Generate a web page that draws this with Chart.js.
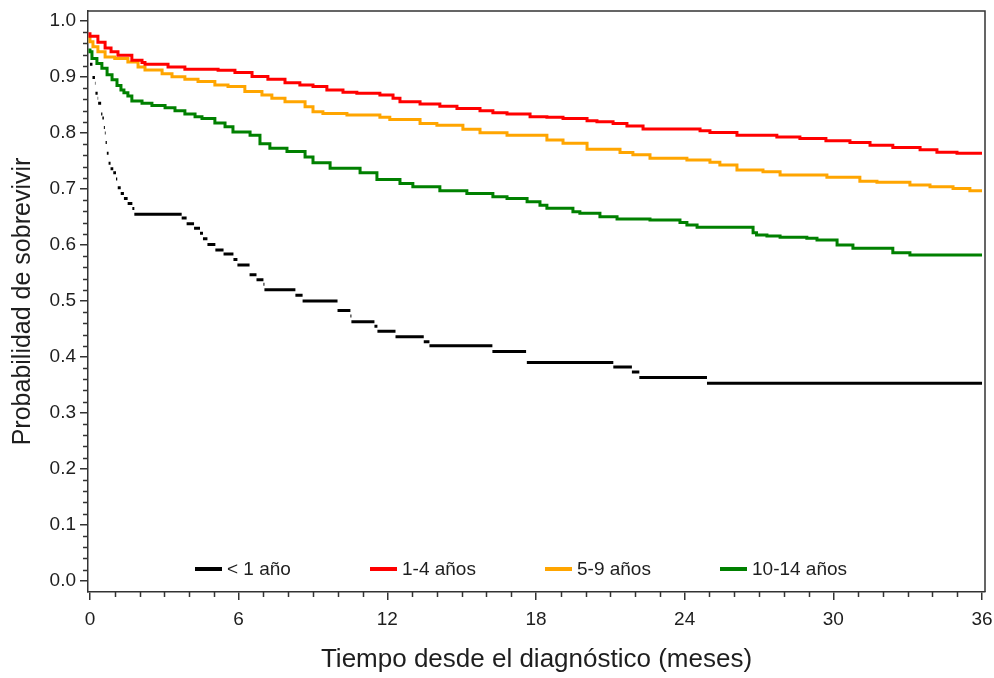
<!DOCTYPE html>
<html>
<head>
<meta charset="utf-8">
<script src="https://cdn.jsdelivr.net/npm/chart.js@4.4.0/dist/chart.umd.min.js"></script>
<style>
  html, body { margin: 0; padding: 0; background: #fff; }
</style>
</head>
<body>
<canvas id="km" width="994" height="678"></canvas>
<script>
// Data
const groupLabels = ['< 1 año', '1-4 años', '5-9 años', '10-14 años'];
const groupColors = ['#000000', '#ff0000', '#ffa500', '#008000'];

const timesLt1 = [0, 0.1, 0.2, 0.22, 0.31, 0.33, 0.45, 0.5, 0.56, 0.6, 0.63, 0.68, 0.75, 0.83, 0.94, 1.05, 1.1, 1.12, 1.24, 1.37,
    1.52, 1.71, 1.79, 3.70, 3.9, 4.2, 4.44, 4.56, 4.74, 5.06, 5.39, 5.79, 5.95, 6.44, 6.72, 7.0, 7.04, 8.29, 8.58, 9.99,
    10.51, 10.55, 11.48, 11.6, 12.33, 13.47, 13.7, 16.24, 17.6, 17.63, 21.12, 21.87, 22.17, 24.9, 36];
const survLt1 = [0.923, 0.899, 0.889, 0.871, 0.862, 0.853, 0.834, 0.827, 0.810, 0.800, 0.783, 0.764, 0.746, 0.736, 0.729, 0.718, 0.710, 0.702, 0.692, 0.683,
    0.674, 0.665, 0.655, 0.648, 0.638, 0.630, 0.621, 0.611, 0.601, 0.591, 0.584, 0.574, 0.564, 0.547, 0.538, 0.530, 0.520, 0.510, 0.500, 0.483,
    0.473, 0.463, 0.455, 0.446, 0.436, 0.427, 0.420, 0.4095, 0.3995, 0.390, 0.382, 0.373, 0.363, 0.353, 0.353];

const times1to4 = [0, 0.32, 0.61, 0.85, 1.13, 1.69, 2.10, 2.22, 3.15, 3.83, 5.17, 5.85, 6.54, 7.18, 7.87, 8.47, 9.0, 9.56, 10.21, 10.77,
    11.70, 12.23, 12.51, 13.32, 14.12, 14.81, 15.74, 16.26, 16.83, 17.76, 18.44, 19.09, 20.06, 20.46, 21.11, 21.67, 22.32, 24.62, 25.02, 26.11,
    27.72, 28.65, 29.7, 30.67, 31.48, 32.4, 33.5, 34.18, 34.99, 35.39, 36];
const surv1to4 = [0.980, 0.973, 0.962, 0.952, 0.945, 0.939, 0.930, 0.926, 0.923, 0.918, 0.914, 0.912, 0.908, 0.901, 0.896, 0.890, 0.886, 0.883, 0.877, 0.873,
    0.871, 0.868, 0.862, 0.856, 0.852, 0.848, 0.844, 0.840, 0.836, 0.834, 0.829, 0.828, 0.826, 0.822, 0.820, 0.817, 0.8125, 0.807, 0.804, 0.801,
    0.796, 0.793, 0.790, 0.786, 0.783, 0.778, 0.774, 0.770, 0.7655, 0.764, 0.764];

const times5to9 = [0, 0.12, 0.32, 0.61, 1.0, 1.53, 1.94, 2.22, 2.91, 3.31, 3.83, 4.36, 5.04, 5.57, 6.25, 6.94, 7.34, 7.87, 8.68, 9.0,
    9.4, 10.37, 11.7, 12.1, 13.32, 14.0, 15.05, 15.74, 16.83, 18.44, 19.09, 20.06, 21.39, 21.91, 22.6, 24.09, 25.02, 25.42, 26.11, 27.16,
    27.85, 29.74, 31.07, 31.76, 33.09, 33.9, 34.83, 35.51, 35.92, 36];
const surv5to9 = [0.974, 0.963, 0.954, 0.945, 0.936, 0.933, 0.927, 0.918, 0.9125, 0.906, 0.9006, 0.896, 0.892, 0.886, 0.883, 0.874, 0.868, 0.862, 0.856, 0.847,
    0.838, 0.835, 0.832, 0.828, 0.824, 0.817, 0.814, 0.8066, 0.8006, 0.796, 0.7875, 0.7816, 0.771, 0.765, 0.761, 0.755, 0.752, 0.748, 0.743, 0.734,
    0.731, 0.725, 0.721, 0.714, 0.712, 0.707, 0.704, 0.701, 0.697, 0.697];

const times10to14 = [0, 0.08, 0.28, 0.48, 0.69, 0.89, 1.09, 1.25, 1.37, 1.53, 1.69, 2.10, 2.50, 3.03, 3.43, 3.83, 4.24, 4.52, 5.04, 5.45,
    5.77, 6.46, 6.86, 7.26, 7.95, 8.68, 9.0, 9.69, 10.9, 11.58, 12.51, 13.03, 14.12, 15.21, 16.26, 16.83, 17.64, 18.16, 18.44, 19.49,
    19.77, 20.58, 21.27, 22.6, 23.81, 24.09, 24.5, 26.76, 26.9, 27.32, 27.85, 28.93, 29.34, 30.15, 30.79, 32.4, 33.09, 35.1, 36];
const surv10to14 = [0.951, 0.945, 0.933, 0.924, 0.9155, 0.904, 0.895, 0.885, 0.877, 0.872, 0.866, 0.857, 0.853, 0.849, 0.845, 0.840, 0.834, 0.829, 0.826, 0.818,
    0.811, 0.802, 0.796, 0.781, 0.773, 0.767, 0.757, 0.747, 0.737, 0.729, 0.717, 0.710, 0.704, 0.697, 0.692, 0.686, 0.683, 0.677, 0.671, 0.6655,
    0.6595, 0.6565, 0.6505, 0.6464, 0.6446, 0.640, 0.6357, 0.6316, 0.622, 0.618, 0.616, 0.614, 0.612, 0.609, 0.600, 0.594, 0.586, 0.582, 0.582];

const xTicks = [0, 6, 12, 18, 24, 30, 36];
const yTicks = [0.0, 0.1, 0.2, 0.3, 0.4, 0.5, 0.6, 0.7, 0.8, 0.9, 1.0];

const FONT = "'Liberation Sans', Arial, sans-serif";
const TEXT = '#1e1e1e';
const AXIS = '#333333';

// Build points
function toPoints(times, surv) {
    return times.map((t, i) => ({ x: t, y: surv[i] }));
}

// Only the horizontal parts of each step (no risers)
function toSegments(times, surv) {
    const pts = [];
    for (let i = 0; i < times.length - 1; i++) {
        pts.push({ x: times[i], y: surv[i] });
        pts.push({ x: times[i + 1], y: surv[i] });
        pts.push({ x: times[i + 1], y: null });
    }
    return pts;
}

// Minor ticks, frame and legend
const extrasPlugin = {
    id: 'extras',
    afterDraw(chart) {
        const { ctx, chartArea: a, scales } = chart;
        ctx.save();
        ctx.strokeStyle = AXIS;
        ctx.lineWidth = 1.5;

        // frame top + right
        ctx.beginPath();
        ctx.moveTo(a.left, a.top);
        ctx.lineTo(a.right, a.top);
        ctx.lineTo(a.right, a.bottom);
        ctx.stroke();

        // minor ticks
        ctx.beginPath();
        for (let k = 1; k < 50; k++) {
            if (k % 5 === 0) continue;
            const py = Math.round(scales.y.getPixelForValue(k / 50)) + 0.5;
            ctx.moveTo(a.left - 5, py);
            ctx.lineTo(a.left, py);
        }
        for (let m = 1; m < 36; m++) {
            if (m % 6 === 0) continue;
            const px = Math.round(scales.x.getPixelForValue(m)) + 0.5;
            ctx.moveTo(px, a.bottom);
            ctx.lineTo(px, a.bottom + 5);
        }
        ctx.stroke();

        // legend inside the plot
        const ly = a.bottom - 23;
        ctx.font = '19px ' + FONT;
        ctx.textBaseline = 'middle';
        groupLabels.forEach((lab, i) => {
            const lx = a.left + 107 + i * 175;
            ctx.fillStyle = groupColors[i];
            ctx.fillRect(lx, ly - 2, 27, 4);
            ctx.fillStyle = TEXT;
            ctx.fillText(lab, lx + 32, ly + 1);
        });
        ctx.restore();
    }
};

const seriesTimes = [timesLt1, times1to4, times5to9, times10to14];
const seriesSurv = [survLt1, surv1to4, surv5to9, surv10to14];

const datasets = groupLabels.map((lab, i) => ({
    label: lab,
    data: i === 0 ? toSegments(seriesTimes[i], seriesSurv[i]) : toPoints(seriesTimes[i], seriesSurv[i]),
    borderColor: groupColors[i],
    borderWidth: 3,
    borderCapStyle: 'butt',
    pointRadius: 0,
    stepped: i === 0 ? false : 'after',
    spanGaps: false,
    fill: false
}));

new Chart(document.getElementById('km'), {
    type: 'line',
    data: { datasets },
    options: {
        responsive: false,
        animation: false,
        layout: { padding: { top: 11, right: 9, left: 0, bottom: 0 } },
        plugins: { legend: { display: false }, tooltip: { enabled: false } },
        scales: {
            x: {
                type: 'linear',
                min: -0.08,
                max: 36.12,
                afterBuildTicks: s => { s.ticks = xTicks.map(v => ({ value: v })); },
                afterFit: s => { s.height = 86; s.paddingLeft = 0; s.paddingRight = 0; },
                grid: { drawOnChartArea: false, tickLength: 8, color: AXIS, lineWidth: 1.5 },
                border: { color: AXIS, width: 1.5 },
                ticks: { font: { family: FONT, size: 19 }, color: TEXT, padding: 8, maxRotation: 0, autoSkip: false },
                title: {
                    display: true,
                    text: 'Tiempo desde el diagnóstico (meses)',
                    font: { family: FONT, size: 26 },
                    color: TEXT,
                    padding: { bottom: 3 }
                }
            },
            y: {
                type: 'linear',
                min: -0.02,
                max: 1.018,
                afterBuildTicks: s => { s.ticks = yTicks.map(v => ({ value: v })); },
                afterFit: s => { s.width = 88; s.paddingTop = 0; s.paddingBottom = 0; },
                grid: { drawOnChartArea: false, tickLength: 8, color: AXIS, lineWidth: 1.5 },
                border: { color: AXIS, width: 1.5 },
                ticks: {
                    font: { family: FONT, size: 19 },
                    color: TEXT,
                    padding: 4,
                    callback: v => Number(v).toFixed(1)
                },
                title: {
                    display: true,
                    text: 'Probabilidad de sobrevivir',
                    font: { family: FONT, size: 25 },
                    color: TEXT,
                    padding: { top: 8 }
                }
            }
        }
    },
    plugins: [extrasPlugin]
});
</script>
</body>
</html>
